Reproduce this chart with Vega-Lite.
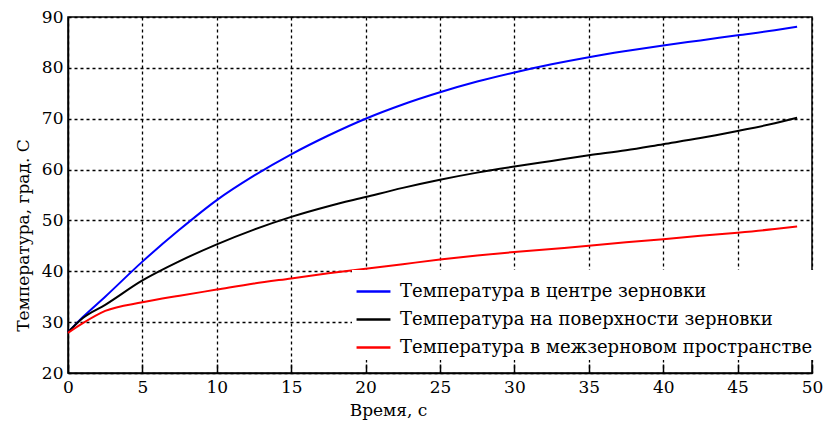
{
  "$schema": "https://vega.github.io/schema/vega-lite/v6.json",
  "width": 744,
  "height": 356,
  "autosize": {"type": "none"},
  "padding": {"left": 68, "top": 17, "right": 11, "bottom": 48},
  "background": "white",
  "config": {
    "font": "DejaVu Serif",
    "view": {"stroke": "black", "strokeWidth": 1.5}
  },
  "data": {
    "values": [
      {"t": 0, "Температура в центре зерновки": 28.0, "Температура на поверхности зерновки": 28.0, "Температура в межзерновом пространстве": 27.9},
      {"t": 1, "Температура в центре зерновки": 31.0, "Температура на поверхности зерновки": 30.8, "Температура в межзерновом пространстве": 29.8},
      {"t": 2.5, "Температура в центре зерновки": 35.0, "Температура на поверхности зерновки": 33.4, "Температура в межзерновом пространстве": 32.2},
      {"t": 5, "Температура в центре зерновки": 41.9, "Температура на поверхности зерновки": 38.2, "Температура в межзерновом пространстве": 33.9},
      {"t": 7.5, "Температура в центре зерновки": 48.2, "Температура на поверхности зерновки": 42.0, "Температура в межзерновом пространстве": 35.2},
      {"t": 10, "Температура в центре зерновки": 54.0, "Температура на поверхности зерновки": 45.3, "Температура в межзерновом пространстве": 36.4},
      {"t": 12.5, "Температура в центре зерновки": 58.8, "Температура на поверхности зерновки": 48.2, "Температура в межзерновом пространстве": 37.6},
      {"t": 15, "Температура в центре зерновки": 63.0, "Температура на поверхности зерновки": 50.7, "Температура в межзерновом пространстве": 38.6},
      {"t": 17.5, "Температура в центре зерновки": 66.7, "Температура на поверхности зерновки": 52.8, "Температура в межзерновом пространстве": 39.6},
      {"t": 20, "Температура в центре зерновки": 70.0, "Температура на поверхности зерновки": 54.6, "Температура в межзерновом пространстве": 40.5},
      {"t": 22.5, "Температура в центре зерновки": 72.8, "Температура на поверхности зерновки": 56.4, "Температура в межзерновом пространстве": 41.4},
      {"t": 25, "Температура в центре зерновки": 75.2, "Температура на поверхности зерновки": 58.0, "Температура в межзерновом пространстве": 42.3},
      {"t": 27.5, "Температура в центре зерновки": 77.3, "Температура на поверхности зерновки": 59.4, "Температура в межзерновом пространстве": 43.1},
      {"t": 30, "Температура в центре зерновки": 79.1, "Температура на поверхности зерновки": 60.6, "Температура в межзерновом пространстве": 43.8},
      {"t": 32.5, "Температура в центре зерновки": 80.7, "Температура на поверхности зерновки": 61.7, "Температура в межзерновом пространстве": 44.4},
      {"t": 35, "Температура в центре зерновки": 82.1, "Температура на поверхности зерновки": 62.8, "Температура в межзерновом пространстве": 45.0},
      {"t": 37.5, "Температура в центре зерновки": 83.3, "Температура на поверхности зерновки": 63.8, "Температура в межзерновом пространстве": 45.7},
      {"t": 40, "Температура в центре зерновки": 84.4, "Температура на поверхности зерновки": 65.0, "Температура в межзерновом пространстве": 46.3},
      {"t": 42.5, "Температура в центре зерновки": 85.4, "Температура на поверхности зерновки": 66.2, "Температура в межзерновом пространстве": 47.0},
      {"t": 45, "Температура в центре зерновки": 86.4, "Температура на поверхности зерновки": 67.6, "Температура в межзерновом пространстве": 47.6},
      {"t": 47.5, "Температура в центре зерновки": 87.4, "Температура на поверхности зерновки": 69.1, "Температура в межзерновом пространстве": 48.3},
      {"t": 49, "Температура в центре зерновки": 88.1, "Температура на поверхности зерновки": 70.2, "Температура в межзерновом пространстве": 48.8}
    ]
  },
  "transform": [
    {"fold": ["Температура в центре зерновки", "Температура на поверхности зерновки", "Температура в межзерновом пространстве"], "as": ["s", "T"]}
  ],
  "mark": {"type": "line", "interpolate": "monotone", "strokeWidth": 2},
  "encoding": {
    "x": {
      "field": "t", "type": "quantitative",
      "scale": {"domain": [0, 50], "nice": false},
      "axis": {
        "values": [0, 5, 10, 15, 20, 25, 30, 35, 40, 45, 50],
        "title": "Время, с",
        "grid": true, "gridDash": [3, 3], "gridColor": "black", "gridWidth": 1.3, "gridOpacity": 1,
        "domainColor": "black", "domainWidth": 1.5,
        "ticks": true, "tickSize": -9, "tickColor": "black", "tickWidth": 1.5,
        "labelFontSize": 17, "labelColor": "black", "labelPadding": 15, "labelFlush": false,
        "titleFontSize": 17, "titleFontWeight": "normal", "titleColor": "black",
        "titleX": 320, "titleY": 29, "titleBaseline": "top", "titleAnchor": "middle"
      }
    },
    "y": {
      "field": "T", "type": "quantitative",
      "scale": {"domain": [20, 90], "nice": false, "zero": false},
      "axis": {
        "values": [20, 30, 40, 50, 60, 70, 80, 90],
        "title": "Температура, град. С",
        "grid": true, "gridDash": [3, 3], "gridColor": "black", "gridWidth": 1.3, "gridOpacity": 1,
        "domainColor": "black", "domainWidth": 1.5,
        "ticks": false,
        "labelFontSize": 17, "labelColor": "black", "labelPadding": 5,
        "titleFontSize": 17, "titleFontWeight": "normal", "titleColor": "black",
        "titleX": -36, "titleY": 218, "titleAnchor": "middle"
      }
    },
    "color": {
      "field": "s", "type": "nominal",
      "scale": {
        "domain": ["Температура в центре зерновки", "Температура на поверхности зерновки", "Температура в межзерновом пространстве"],
        "range": ["#0000ff", "#000000", "#ff0000"]
      },
      "legend": {
        "orient": "none", "legendX": 284, "legendY": 253,
        "title": null,
        "symbolType": "stroke", "symbolSize": 1150, "symbolStrokeWidth": 2.5,
        "labelFont": "DejaVu Serif", "labelFontSize": 18, "labelColor": "black", "labelOffset": 8, "labelLimit": 600,
        "rowPadding": -9, "fillColor": "white", "padding": 3
      }
    }
  }
}
